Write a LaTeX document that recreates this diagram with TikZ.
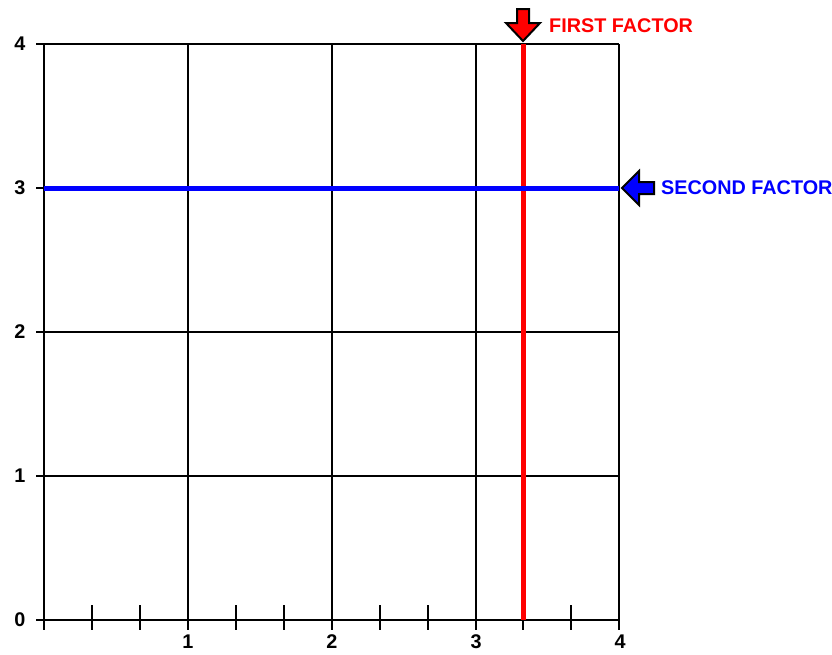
\documentclass[tikz,border=0pt]{standalone}
\usepackage{fontspec}
\setmainfont{Liberation Sans}
\begin{document}
\begin{tikzpicture}[x=1pt,y=-1pt,
  gridline/.style={line width=2.2pt,black},
  lab/.style={font=\fontsize{19.8}{20}\selectfont\bfseries,inner sep=0pt},
  blockarrow/.style={draw=black,line width=2pt,line join=miter}]
\useasboundingbox (0,0) rectangle (832,654);
% grid
\foreach \x in {44,188,332,476,619}
  \draw[gridline] (\x,44) -- (\x,630);
\foreach \y in {44,188,332,476,620}
  \draw[gridline] (36,\y) -- (619,\y);
% minor ticks
\foreach \x in {92,140,236,284,380,428,523,571}
  \draw[gridline] (\x,605) -- (\x,630);
% factor lines
\draw[line width=5pt,red] (523,44) -- (523,620);
\draw[line width=5pt,blue] (44,188) -- (619,188);
% axis labels
\foreach \v/\y in {4/44,3/188,2/332,1/476,0/620}
  \node[lab] (y\v) at (20,\y) {\v};
\foreach \v/\x in {1/188,2/332,3/476,4/620}
  \node[lab] (x\v) at (\x,642) {\v};
% arrows
\filldraw[blockarrow,fill=red] (517,9) -- (529,9) -- (529,23) -- (540,23) -- (523,41) -- (506,23) -- (517,23) -- cycle;
\filldraw[blockarrow,fill=blue] (654,182) -- (654,194) -- (639,194) -- (639,205) -- (622,188) -- (639,171) -- (639,182) -- cycle;
\node[lab,red,anchor=west] (first) at (549,26) {FIRST FACTOR};
\node[lab,blue,anchor=west] (second) at (661,188) {SECOND FACTOR};
\end{tikzpicture}
\end{document}
